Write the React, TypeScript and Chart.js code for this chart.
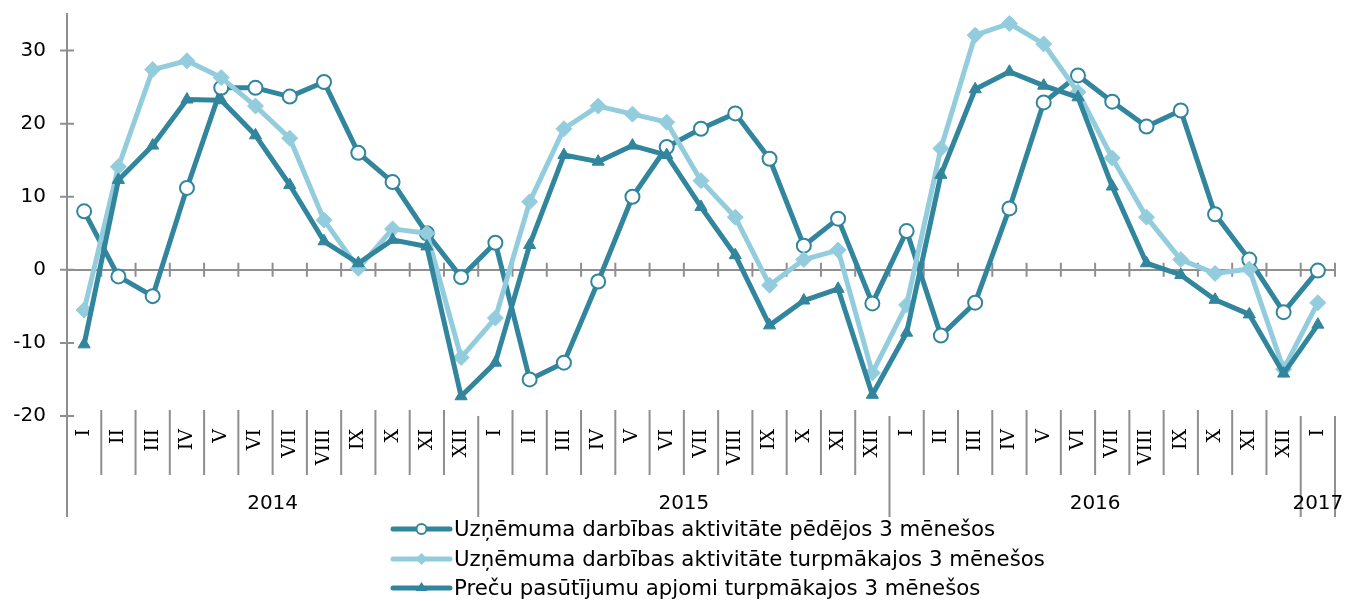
import React, { useEffect, useRef } from 'react';
import { Chart, registerables } from 'chart.js';

Chart.register(...registerables);

const months = [
  'I', 'II', 'III', 'IV', 'V', 'VI', 'VII', 'VIII', 'IX', 'X', 'XI', 'XII',
  'I', 'II', 'III', 'IV', 'V', 'VI', 'VII', 'VIII', 'IX', 'X', 'XI', 'XII',
  'I', 'II', 'III', 'IV', 'V', 'VI', 'VII', 'VIII', 'IX', 'X', 'XI', 'XII',
  'I',
];
const years = ['2014', '2015', '2016', '2017'];
const monthsPerYear = [12, 12, 12, 1];

const activityPast = [
  8.0, -0.9, -3.6, 11.2, 24.9, 24.9, 23.7, 25.7, 16.0, 12.0, 5.0, -1.0,
  3.7, -15.0, -12.7, -1.6, 10.0, 16.8, 19.3, 21.4, 15.2, 3.3, 7.0, -4.6,
  5.3, -9.0, -4.5, 8.4, 22.9, 26.6, 23.0, 19.6, 21.8, 7.6, 1.4, -5.8,
  -0.1,
];
const activityNext = [
  -5.5, 14.1, 27.4, 28.6, 26.3, 22.4, 18.0, 6.8, 0.2, 5.6, 5.0, -12.0,
  -6.6, 9.3, 19.3, 22.4, 21.3, 20.2, 12.2, 7.2, -2.1, 1.4, 2.7, -14.1,
  -4.8, 16.6, 32.1, 33.7, 30.9, 24.3, 15.3, 7.2, 1.4, -0.5, 0.1, -13.6,
  -4.5,
];
const ordersNext = [
  -10.2, 12.3, 17.0, 23.3, 23.2, 18.4, 11.6, 3.9, 0.9, 4.1, 3.2, -17.3,
  -12.7, 3.4, 15.7, 14.8, 17.0, 15.7, 8.6, 2.0, -7.6, -4.2, -2.6, -17.1,
  -8.6, 13.0, 24.7, 27.1, 25.2, 23.6, 11.4, 0.9, -0.7, -4.1, -6.1, -14.2,
  -7.5,
];
const seriesLabels = [
  'Uzņēmuma darbības aktivitāte pēdējos 3 mēnešos',
  'Uzņēmuma darbības aktivitāte turpmākajos 3 mēnešos',
  'Preču pasūtījumu apjomi turpmākajos 3 mēnešos',
];
const yTicks = [-20, -10, 0, 10, 20, 30];
const yMin = -20;
const yMax = 35;

const DARK = '#31859c';
const LIGHT = '#93cddd';
const GREY = '#8f8f8f';
const FONT = 'DejaVu Sans';

function drawMarker(ctx: CanvasRenderingContext2D, style: string, x: number, y: number, r: number, fill: string, stroke: string, bw: number) {
  ctx.beginPath();
  if (style === 'circle') {
    ctx.arc(x, y, r, 0, Math.PI * 2);
  } else if (style === 'rectRot') {
    ctx.moveTo(x - r, y);
    ctx.lineTo(x, y - r);
    ctx.lineTo(x + r, y);
    ctx.lineTo(x, y + r);
    ctx.closePath();
  } else {
    const h = r * 1.5;
    ctx.moveTo(x, y - h * 0.66);
    ctx.lineTo(x + r, y + h * 0.34);
    ctx.lineTo(x - r, y + h * 0.34);
    ctx.closePath();
  }
  ctx.fillStyle = fill;
  ctx.fill();
  if (bw > 0) {
    ctx.lineWidth = bw;
    ctx.strokeStyle = stroke;
    ctx.stroke();
  }
}

const decorPlugin = {
  id: 'decor',
  beforeDatasetsDraw(chart: any) {
    const { ctx, scales, chartArea } = chart;
    const x = scales.x;
    const y = scales.y;
    const n = months.length;
    const half = (x.getPixelForValue(1) - x.getPixelForValue(0)) / 2;
    const y0 = y.getPixelForValue(0);
    ctx.save();
    ctx.strokeStyle = GREY;
    ctx.lineWidth = 2;
    ctx.beginPath();
    for (let i = 0; i <= n; i++) {
      const px = i < n ? x.getPixelForValue(i) - half : x.getPixelForValue(n - 1) + half;
      ctx.moveTo(px, y0 - 7);
      ctx.lineTo(px, y0 + 7);
    }
    for (const v of yTicks) {
      const py = y.getPixelForValue(v);
      ctx.moveTo(chartArea.left - 7, py);
      ctx.lineTo(chartArea.left + 7, py);
    }
    ctx.stroke();
    ctx.restore();
  },
  afterDraw(chart: any) {
    const { ctx, scales, chartArea } = chart;
    const x = scales.x;
    const n = months.length;
    const half = (x.getPixelForValue(1) - x.getPixelForValue(0)) / 2;
    const bottom = chartArea.bottom;
    ctx.save();
    ctx.strokeStyle = GREY;
    ctx.lineWidth = 2;
    const yearStarts: number[] = [];
    let acc = 0;
    for (const c of monthsPerYear) {
      yearStarts.push(acc);
      acc += c;
    }
    const boundaryPx = (i: number) => (i < n ? x.getPixelForValue(i) - half : x.getPixelForValue(n - 1) + half);
    ctx.beginPath();
    for (let i = 0; i <= n; i++) {
      const isYear = i === n || yearStarts.includes(i);
      const px = boundaryPx(i);
      ctx.moveTo(px, isYear ? bottom : bottom - 6);
      ctx.lineTo(px, isYear ? bottom + 101 : bottom + 59);
    }
    ctx.stroke();
    ctx.fillStyle = '#000';
    ctx.font = `20px "${FONT}"`;
    ctx.textAlign = 'center';
    ctx.textBaseline = 'middle';
    years.forEach((yr, k) => {
      const a = boundaryPx(yearStarts[k]);
      const b = boundaryPx(yearStarts[k] + monthsPerYear[k]);
      ctx.fillText(yr, (a + b) / 2, bottom + 88);
    });
    const rows = [529, 559, 588];
    const lx0 = 393;
    const lx1 = 450;
    chart.data.datasets.forEach((ds: any, i: number) => {
      const yy = rows[i];
      ctx.strokeStyle = ds.borderColor;
      ctx.lineWidth = 5;
      ctx.lineCap = 'round';
      ctx.beginPath();
      ctx.moveTo(lx0, yy);
      ctx.lineTo(lx1, yy);
      ctx.stroke();
      const mx = (lx0 + lx1) / 2;
      if (ds.pointStyle === 'circle') drawMarker(ctx, 'circle', mx, yy, 5, '#fff', ds.borderColor, 2);
      else if (ds.pointStyle === 'rectRot') drawMarker(ctx, 'rectRot', mx, yy, 6, ds.pointBackgroundColor, ds.pointBackgroundColor, 0);
      else drawMarker(ctx, 'triangle', mx, yy, 6, ds.pointBackgroundColor, ds.pointBackgroundColor, 0);
      ctx.fillStyle = '#000';
      ctx.font = `21.3px "${FONT}"`;
      ctx.textAlign = 'left';
      ctx.textBaseline = 'middle';
      ctx.fillText(ds.label, 454, yy + 1);
    });
    ctx.restore();
  },
};

export default function App() {
  const ref = useRef<HTMLCanvasElement>(null);
  useEffect(() => {
    document.body.style.margin = '0';
    const canvas = ref.current;
    if (!canvas) return;
    const chart = new Chart(canvas, {
      type: 'line',
      data: {
        labels: months,
        datasets: [
          {
            label: seriesLabels[0],
            data: activityPast,
            borderColor: DARK,
            backgroundColor: DARK,
            borderWidth: 5,
            pointStyle: 'circle',
            pointRadius: 7,
            pointBackgroundColor: '#ffffff',
            pointBorderColor: DARK,
            pointBorderWidth: 2,
            borderJoinStyle: 'round',
            tension: 0,
            order: 3,
          },
          {
            label: seriesLabels[1],
            data: activityNext,
            borderColor: LIGHT,
            backgroundColor: LIGHT,
            borderWidth: 5,
            pointStyle: 'rectRot',
            pointRadius: 8,
            pointBackgroundColor: LIGHT,
            pointBorderColor: LIGHT,
            pointBorderWidth: 1,
            borderJoinStyle: 'round',
            tension: 0,
            order: 2,
          },
          {
            label: seriesLabels[2],
            data: ordersNext,
            borderColor: DARK,
            backgroundColor: DARK,
            borderWidth: 5,
            pointStyle: 'triangle',
            pointRadius: 7,
            pointBackgroundColor: DARK,
            pointBorderColor: DARK,
            pointBorderWidth: 1,
            borderJoinStyle: 'round',
            tension: 0,
            order: 1,
          },
        ],
      } as any,
      options: {
        responsive: false,
        animation: false,
        devicePixelRatio: 1,
        layout: { padding: { left: 0, right: 12, top: 14, bottom: 0 } },
        plugins: {
          legend: { display: false },
          tooltip: { enabled: false },
        },
        scales: {
          x: {
            type: 'category',
            offset: true,
            grid: { display: false, drawTicks: false },
            border: { display: false },
            ticks: {
              autoSkip: false,
              minRotation: 90,
              maxRotation: 90,
              padding: 13,
              color: '#000',
              font: { family: 'DejaVu Serif', size: 19 },
            },
            afterFit: (scale: any) => {
              scale.height = 185;
              scale.paddingLeft = 0;
              scale.paddingRight = 0;
            },
          },
          y: {
            type: 'linear',
            min: yMin,
            max: yMax,
            ticks: {
              stepSize: 10,
              includeBounds: false,
              padding: 21,
              color: '#000',
              font: { family: FONT, size: 20 },
            },
            afterBuildTicks: (scale: any) => {
              scale.ticks = yTicks.map((v) => ({ value: v }));
            },
            grid: {
              drawTicks: false,
              lineWidth: 2,
              color: (c: any) => (c.tick && c.tick.value === 0 ? GREY : 'rgba(0,0,0,0)'),
            },
            border: { display: true, color: GREY, width: 2 },
            afterFit: (scale: any) => {
              scale.width = 67;
              scale.paddingTop = 0;
              scale.paddingBottom = 0;
            },
          },
        },
      } as any,
      plugins: [decorPlugin],
    });
    return () => chart.destroy();
  }, []);
  return (
    <div style={{ width: 1347, height: 601 }}>
      <canvas ref={ref} width={1347} height={601} style={{ display: 'block' }} />
    </div>
  );
}
